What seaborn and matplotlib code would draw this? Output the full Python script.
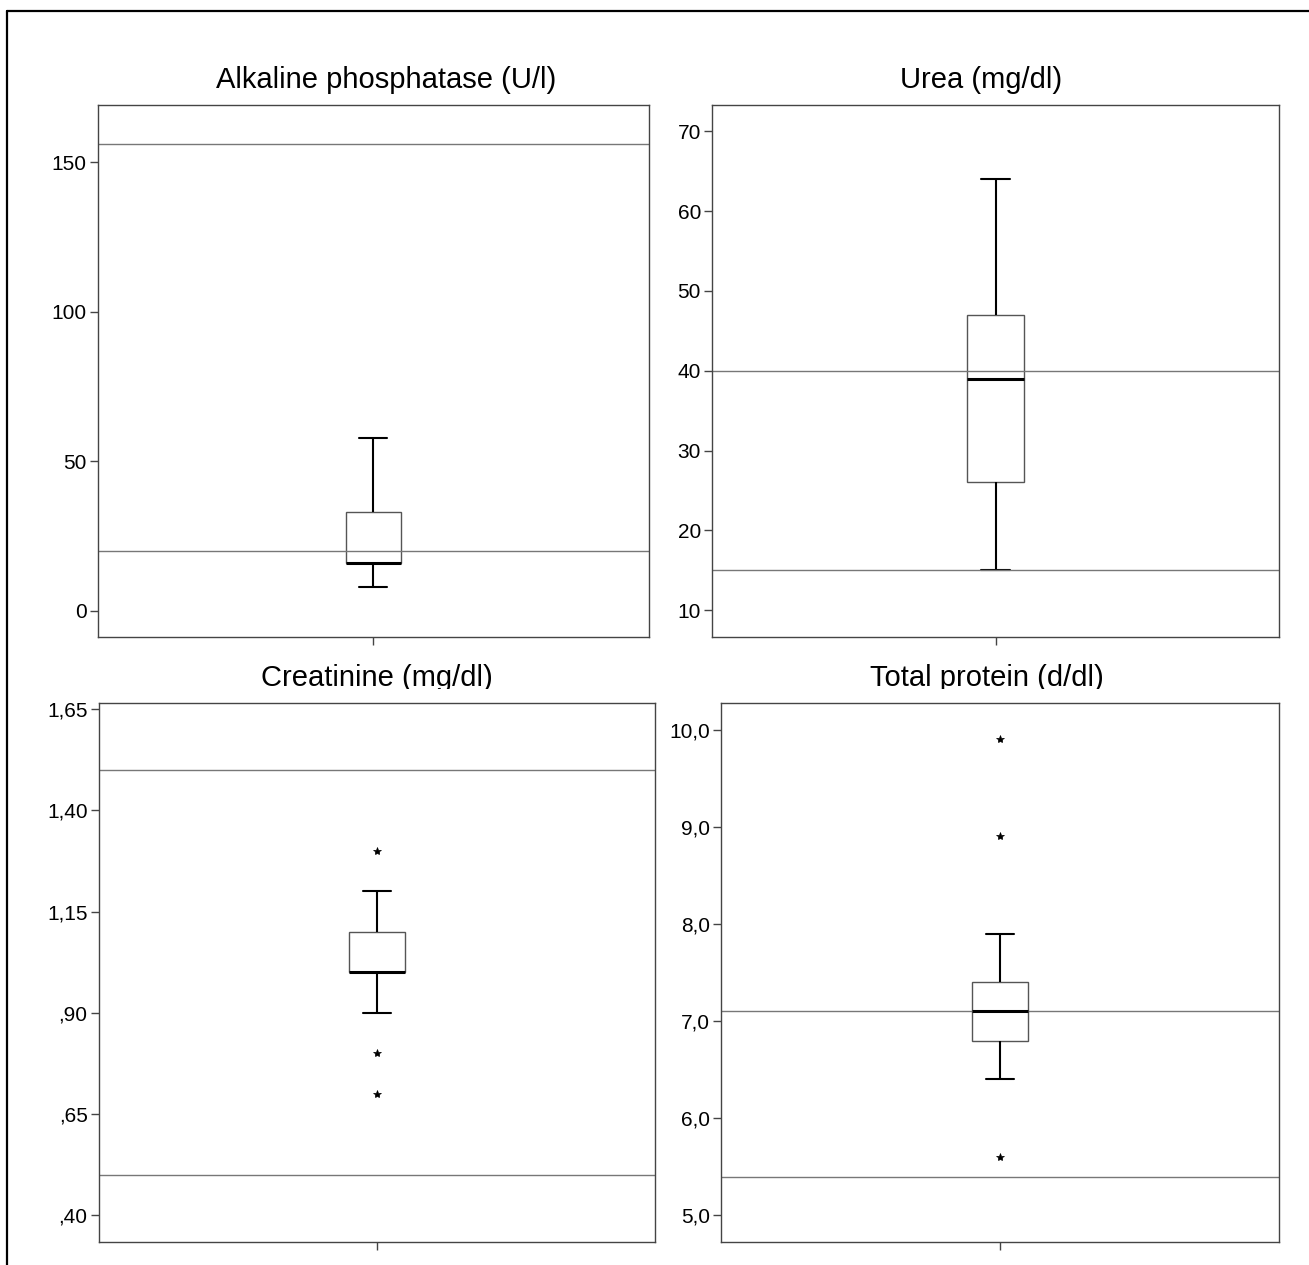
import matplotlib
matplotlib.use("Agg")
import matplotlib.pyplot as plt
import seaborn as sns
import pandas as pd
import numpy as np
from matplotlib.lines import Line2D
from matplotlib.transforms import Bbox

# ---------------- data ----------------
titles = ["Alkaline phosphatase (U/l)", "Urea (mg/dl)",
          "Creatinine (mg/dl)", "Total protein (d/dl)"]

alp_values = [8, 16, 16, 33, 58]
urea_values = [15, 26, 39, 47, 64]
creatinine_values = [0.70, 0.80, 0.90, 1.00, 1.00, 1.00, 1.00,
                     1.10, 1.10, 1.10, 1.10, 1.20, 1.30]
protein_values = [5.6, 6.4, 6.8, 6.8, 6.8, 7.1, 7.1,
                  7.1, 7.4, 7.4, 7.9, 8.9, 9.9]

alp_reference = [20, 156]
urea_reference = [15, 40]
creatinine_reference = [0.50, 1.50]
protein_reference = [5.4, 7.1]

alp_ticks = [0, 50, 100, 150]
alp_ticklabels = ["0", "50", "100", "150"]
urea_ticks = [10, 20, 30, 40, 50, 60, 70]
urea_ticklabels = ["10", "20", "30", "40", "50", "60", "70"]
creatinine_ticks = [0.40, 0.65, 0.90, 1.15, 1.40, 1.65]
creatinine_ticklabels = [",40", ",65", ",90", "1,15", "1,40", "1,65"]
protein_ticks = [5.0, 6.0, 7.0, 8.0, 9.0, 10.0]
protein_ticklabels = ["5,0", "6,0", "7,0", "8,0", "9,0", "10,0"]

alp_ylim = (-8.7, 169.2)
urea_ylim = (6.7, 73.3)
creatinine_ylim = (0.334, 1.665)
protein_ylim = (4.726, 10.274)

# ---------------- style ----------------
sns.set_theme(style="ticks")
plt.rcParams["font.family"] = ["Liberation Sans", "DejaVu Sans"]

W, H = 1309, 1265
fig = plt.figure(figsize=(W / 100, H / 100), dpi=100)
fig.patch.set_facecolor("white")

# axes boxes in pixels: left, top, right, bottom
boxes = [(97.7, 105, 648.7, 637),
         (712, 105, 1279, 636.5),
         (98.7, 703, 655, 1242),
         (721, 703, 1279, 1242)]
title_x = [386, 981, 377, 987]
title_base = [88, 88, 686, 686]

panels = [
    (alp_values, alp_reference, alp_ticks, alp_ticklabels, alp_ylim),
    (urea_values, urea_reference, urea_ticks, urea_ticklabels, urea_ylim),
    (creatinine_values, creatinine_reference, creatinine_ticks,
     creatinine_ticklabels, creatinine_ylim),
    (protein_values, protein_reference, protein_ticks,
     protein_ticklabels, protein_ylim),
]

spine_col = "#444444"
for i, ((l, t, r, b), (vals, refs, ticks, tlabels, ylim)) in enumerate(zip(boxes, panels)):
    ax = fig.add_axes([l / W, 1 - b / H, (r - l) / W, (b - t) / H])
    df = pd.DataFrame({"value": vals})
    sns.boxplot(data=df, y="value", ax=ax, width=0.1, color="white",
                linecolor="black", linewidth=1.4, whis=1.5,
                boxprops=dict(edgecolor="#555555", linewidth=1.0),
                medianprops=dict(color="black", linewidth=2.2),
                whiskerprops=dict(color="black", linewidth=1.5),
                capprops=dict(color="black", linewidth=1.5),
                flierprops=dict(marker="*", markersize=6,
                                markerfacecolor="black",
                                markeredgecolor="black", markeredgewidth=0.5))
    for rv in refs:
        ax.axhline(rv, color="#777777", linewidth=1.0, zorder=2.05)
    ax.set_xlim(-0.5, 0.5)
    ax.set_ylim(*ylim)
    ax.set_yticks(ticks)
    ax.set_yticklabels(tlabels)
    ax.set_xticks([0])
    ax.set_xticklabels([""])
    ax.set_xlabel("")
    ax.set_ylabel("")
    for s in ax.spines.values():
        s.set_visible(True)
        s.set_color(spine_col)
        s.set_linewidth(1.0)
    ax.tick_params(axis="y", direction="out", length=6, width=1.0,
                   color=spine_col, pad=2, labelsize=15, labelcolor="black")
    ax.tick_params(axis="x", direction="out", length=6, width=1.0,
                   color=spine_col, labelbottom=False)
    ax.grid(False)

    # title
    txt = fig.text(title_x[i] / W, 1 - title_base[i] / H, titles[i],
                   ha="center", va="baseline", fontsize=21, color="black")
    if i >= 2:
        txt.set_clip_on(True)
        txt.set_clip_box(Bbox([[0, H - 689], [W, H]]))

# outer frame (clipped at right and bottom)
fig.add_artist(Line2D([7 / W, 1.0], [1 - 11 / H, 1 - 11 / H], color="black",
                      linewidth=1.6, transform=fig.transFigure))
fig.add_artist(Line2D([7 / W, 7 / W], [1 - 11 / H, 0.0], color="black",
                      linewidth=1.6, transform=fig.transFigure))

fig.savefig("out.png", dpi=100, facecolor="white")
